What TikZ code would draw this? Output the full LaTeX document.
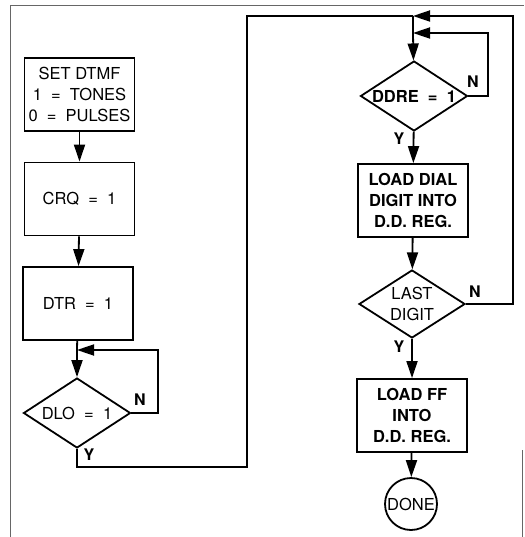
\documentclass[tikz,border=0pt]{standalone}
\usepackage{fontspec}
\setmainfont{TeX Gyre Heros}
\usepackage{tikz}
\usetikzlibrary{arrows.meta, shapes.geometric}
\newcommand{\zw}[1]{\makebox[0pt]{#1}}
\tikzset{
  box/.style   = {draw, line width=1.8pt, align=center, font=\fontsize{16.5}{21}\selectfont,
                  minimum width=110pt, minimum height=73pt, inner sep=0pt},
  dec/.style   = {draw, diamond, line width=1.8pt, align=center,
                  font=\fontsize{16.5}{21}\selectfont,
                  minimum width=107pt, minimum height=70pt, inner sep=0pt},
  term/.style  = {draw, circle, line width=1.8pt, font=\fontsize{16.5}{18}\selectfont,
                  minimum size=52pt, inner sep=0pt},
  line/.style  = {line width=1.8pt},
  flow/.style  = {line, -{Triangle[length=17pt, width=11pt]}},
  lbl/.style   = {font=\fontsize{16}{18}\selectfont\bfseries, inner sep=0pt},
  frame/.style = {line width=1pt, black!60},
}

\begin{document}
\begin{tikzpicture}[x=1pt, y=-1pt]
    \useasboundingbox (0,0) rectangle (524,537);
    % page frame
    \draw[frame] (10,537) -- (10,6) -- (524,6);
    \draw[frame] (522,450) -- (522,537);

    % left column
    \node[box] (dtmf) at (79.5,94.5) {SET DTMF\\1 \ = \ TONES\\0 \ = \ PULSES};
    \node[box] (crq)  at (79.5,199)  {CRQ \ = \ 1};
    \node[box] (dtr)  at (78,303.5)  {DTR \ = \ 1};
    \node[dec] (dlo)  at (77,413)    {\zw{DLO \ = \ 1}};
    \coordinate (j1)   at (77,350);
    \coordinate (dloN) at (158,350);
    \coordinate (yb)   at (247,467);
    \coordinate (yt)   at (247,16);

    % right column
    \coordinate (j2)    at (413,16);
    \coordinate (j3)    at (413,33);
    \coordinate (ddreN) at (488,33);
    \coordinate (lastN) at (513,16);
    \node[dec, font=\fontsize{16.5}{21}\selectfont\bfseries] (ddre) at (414,96)
      {\zw{DDRE \ = \ 1}};
    \node[box, font=\fontsize{16.5}{21}\selectfont\bfseries] (dial) at (413,200.5)
      {LOAD DIAL\\DIGIT INTO\\D.D. REG.};
    \node[dec, minimum width=106pt, minimum height=68pt] (last) at (412,304)
      {\zw{LAST}\\\zw{DIGIT}};
    \node[box, font=\fontsize{16.5}{21}\selectfont\bfseries] (ff) at (412,415.5)
      {LOAD FF\\INTO\\D.D. REG.};
    \node[term] (done) at (411,504) {DONE};

    \draw[flow] (dtmf) -- (crq);
    \draw[flow] (crq) -- (dtr);
    \draw[line] (dtr) -- (j1);
    \draw[flow] (j1) -- (dlo);
    \draw[flow] (dlo.east) -| (dloN) -- (j1);
    \draw[line] (dlo.south) |- (yb) -- (yt) -- (j2);

    \draw[flow] (last.east) -| (lastN) -- (j2);
    \draw[line] (j2) -- (j3);
    \draw[flow] (ddre.east) -| (ddreN) -- (j3);
    \draw[flow] (j3) -- (ddre);
    \draw[flow] (ddre) -- (dial);
    \draw[flow] (dial) -- (last);
    \draw[flow] (last) -- (ff);
    \draw[flow] (ff) -- (done);

    \node[lbl] (dloNl)  at (140,400) {N};
    \node[lbl] (dloYl)  at (89,455)  {Y};
    \node[lbl] (ddreNl) at (473,82)  {N};
    \node[lbl] (ddreYl) at (399,139) {Y};
    \node[lbl] (lastNl) at (475,292) {N};
    \node[lbl] (lastYl) at (399,347) {Y};
\end{tikzpicture}
\end{document}
